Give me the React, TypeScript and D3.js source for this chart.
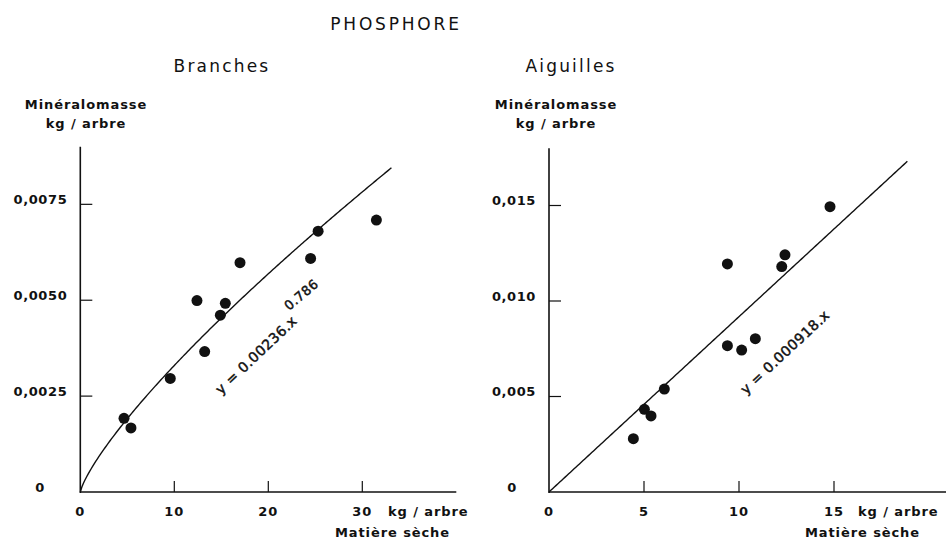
import React from 'react';
import * as d3 from 'd3';

// --- données ---
const branchesX = [4.65, 5.39, 9.57, 12.41, 13.23, 14.9, 15.43, 16.99, 24.5, 25.3, 31.5];
const branchesY = [0.00192, 0.00167, 0.00296, 0.00499, 0.00366, 0.00461, 0.00492, 0.00598, 0.00609, 0.0068, 0.00709];
const aiguillesX = [4.44, 5.02, 5.37, 6.07, 9.39, 9.39, 10.14, 10.86, 12.25, 12.42, 14.79];
const aiguillesY = [0.00279, 0.00433, 0.00398, 0.00539, 0.01194, 0.00766, 0.00743, 0.00803, 0.0118, 0.01242, 0.01494];

const branchesXTicks = [0, 10, 20, 30];
const branchesYTicks = [0, 0.0025, 0.005, 0.0075];
const aiguillesXTicks = [0, 5, 10, 15];
const aiguillesYTicks = [0, 0.005, 0.01, 0.015];

// ajustements (courbe de puissance / droite)
const branchesFit = { coef: 0.00054, exp: 0.786, xMax: 33.1 };
const aiguillesFit = { coef: 0.000918, exp: 1, xMax: 18.86 };

const FONT = '"DejaVu Sans", sans-serif';
const fr = d3.formatLocale({ decimal: ',', thousands: ' ', grouping: [3], currency: ['', ' €'] });

type PanelProps = {
  xs: number[]; ys: number[];
  xTicks: number[]; yTicks: number[];
  xDomain: [number, number]; xRange: [number, number];
  yDomain: [number, number]; yRange: [number, number];
  yFmt: string;
  fit: { coef: number; exp: number; xMax: number };
  title: string; titleX: number;
  labelX: number;
  unitX: number; axisLabelX: number;
  zeroX: number;
  eq: React.ReactNode;
};

const Panel = (p: PanelProps) => {
  const x = d3.scaleLinear().domain(p.xDomain).range(p.xRange);
  const y = d3.scaleLinear().domain(p.yDomain).range(p.yRange);
  const fmt = fr.format(p.yFmt);
  const fitPts = d3.range(0, 201).map(i => {
    const xv = (p.fit.xMax * i) / 200;
    return [xv, p.fit.coef * Math.pow(xv, p.fit.exp)] as [number, number];
  });
  const line = d3.line<[number, number]>().x(d => x(d[0])).y(d => y(d[1]));
  const x0 = x(0), y0 = y(0);
  const lbl = { fontFamily: FONT, fontSize: 13, fontWeight: 'bold', fill: '#111', letterSpacing: 0.9 } as const;

  return (
    <g>
      <text x={p.titleX} y={72} textAnchor="middle" style={{ fontFamily: FONT, fontSize: 17, letterSpacing: 2.2, fill: '#111' }}>{p.title}</text>
      <text x={p.labelX} y={109} textAnchor="middle" style={lbl}>Minéralomasse</text>
      <text x={p.labelX} y={128} textAnchor="middle" style={lbl}>kg / arbre</text>

      <line x1={x0} x2={x0} y1={y(p.yDomain[1])} y2={y0 + 1} stroke="#111" strokeWidth={1.6} />
      <line x1={x0} x2={x(p.xDomain[1])} y1={y0} y2={y0} stroke="#111" strokeWidth={1.6} />

      {p.yTicks.map(t => (
        <g key={t}>
          {t !== 0 && <line x1={x0} x2={x0 + 12} y1={y(t)} y2={y(t)} stroke="#111" strokeWidth={1.2} />}
          <text
            x={t === 0 ? p.zeroX : x0 - 13}
            y={y(t) - 5}
            dy="0.35em"
            textAnchor={t === 0 ? 'middle' : 'end'}
            style={{ ...lbl, letterSpacing: 0.6 }}
          >{t === 0 ? '0' : fmt(t)}</text>
        </g>
      ))}
      {p.xTicks.map(t => (
        <g key={t}>
          {t !== 0 && <line x1={x(t)} x2={x(t)} y1={y0} y2={y0 - 11} stroke="#111" strokeWidth={1.2} />}
          <text x={x(t)} y={y0 + 24} textAnchor="middle" style={lbl}>{t}</text>
        </g>
      ))}
      <text x={p.unitX} y={y0 + 24} style={lbl}>kg / arbre</text>
      <text x={p.axisLabelX} y={y0 + 45} style={lbl}>Matière sèche</text>

      <path d={line(fitPts) || ''} fill="none" stroke="#111" strokeWidth={1.4} />
      {p.xs.map((xv, i) => (
        <circle key={i} cx={x(xv)} cy={y(p.ys[i])} r={5.5} fill="#111" />
      ))}
      {p.eq}
    </g>
  );
};

export default function App() {
  const eqStyle = { fontFamily: FONT, fontSize: 14, fill: '#111', stroke: '#111', strokeWidth: 0.45, letterSpacing: 0.5 } as const;
  return (
    <svg width={946} height={541} style={{ position: 'absolute', left: 0, top: 0, background: '#fff' }}>
      <text x={396} y={30} textAnchor="middle" style={{ fontFamily: FONT, fontSize: 17, letterSpacing: 2.8, fill: '#111' }}>PHOSPHORE</text>
      <Panel
        xs={branchesX} ys={branchesY}
        xTicks={branchesXTicks} yTicks={branchesYTicks}
        xDomain={[0, 40]} xRange={[80.3, 456.3]}
        yDomain={[0, 0.009]} yRange={[492, 146.8]}
        yFmt=".4f"
        fit={branchesFit}
        title="Branches" titleX={222}
        labelX={86}
        unitX={388} axisLabelX={335}
        zeroX={40}
        eq={
          <g>
            <text transform="translate(221,395) rotate(-43.5)" style={eqStyle}>y = 0.00236.x</text>
            <text transform="translate(289,311) rotate(-40)" style={{ ...eqStyle, fontSize: 13 }}>0.786</text>
          </g>
        }
      />
      <Panel
        xs={aiguillesX} ys={aiguillesY}
        xTicks={aiguillesXTicks} yTicks={aiguillesYTicks}
        xDomain={[0, 21]} xRange={[549, 948]}
        yDomain={[0, 0.018]} yRange={[492, 148.2]}
        yFmt=".3f"
        fit={aiguillesFit}
        title="Aiguilles" titleX={571}
        labelX={556}
        unitX={858} axisLabelX={805}
        zeroX={512}
        eq={<text transform="translate(746,395) rotate(-43)" style={eqStyle}>y = 0.000918.x</text>}
      />
    </svg>
  );
}
